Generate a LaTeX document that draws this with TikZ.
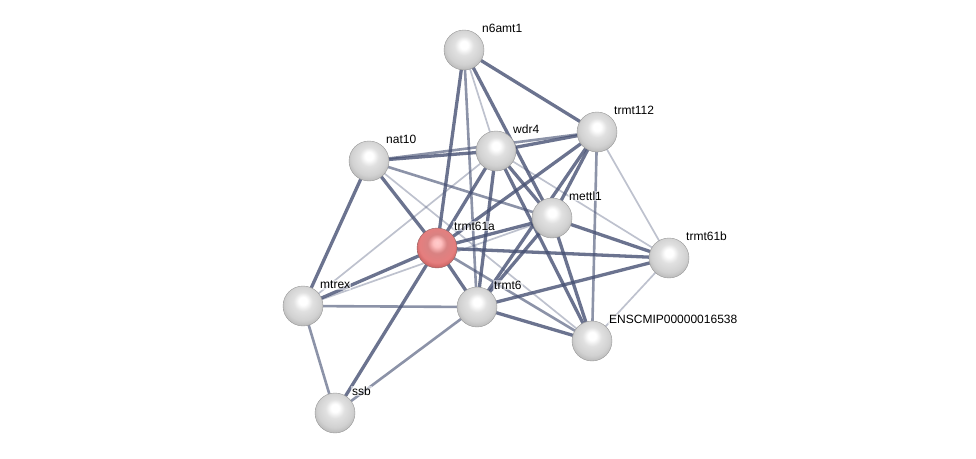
\documentclass[tikz,border=0pt]{standalone}
\usepackage{fontspec}
\setmainfont{Liberation Sans}
\usetikzlibrary{positioning,calc,backgrounds}

\definecolor{edgeblue}{RGB}{70,80,115}
\pgfdeclareradialshading{stringgray}{\pgfpoint{0bp}{7bp}}{color(0bp)=(white);
	color(5bp)=(white); color(12bp)=(white!88!black); color(22bp)=(white!82!black);
	color(30bp)=(white!70!black); color(34bp)=(white!55!black); color(50bp)=(white!55!black)}
\pgfdeclareradialshading{stringred}{\pgfpoint{0bp}{7bp}}{color(0bp)=(white!80!red);
	color(5bp)=(white!75!red); color(12bp)=(red!40!white!85!black); color(22bp)=(red!45!white!90!black);
	color(30bp)=(red!55!white!75!black); color(34bp)=(red!50!black); color(50bp)=(red!50!black)}

\begin{document}
\begin{tikzpicture}[x=1pt,y=-1pt,
				prot/.style={circle,minimum size=40pt,inner sep=0pt,outer sep=0pt,shading=stringgray,draw=black!40,line width=.4pt},
				query/.style={prot,shading=stringred,draw=red!30!black!60},
				lab/.style={anchor=west,inner sep=1pt,fill=white,fill opacity=.55,text opacity=1,
					font=\fontsize{12}{13}\selectfont},
				strong/.style={edgeblue,line width=3.3pt,opacity=.8},
				medium/.style={edgeblue,line width=2.6pt,opacity=.62},
				weak/.style={edgeblue,line width=1.7pt,opacity=.35}]
				\useasboundingbox (0,0) rectangle (976,458);
				% proteins
				\node[prot]  (n6amt1)  at (464,50)  {};
				\node[prot]  (trmt112) at (597,132) {};
				\node[prot]  (wdr4)    at (496,151) {};
				\node[prot]  (nat10)   at (369,161) {};
				\node[prot]  (mettl1)  at (552,218) {};
				\node[query] (trmt61a) at (437,248) {};
				\node[prot]  (trmt61b) at (669,258) {};
				\node[prot]  (mtrex)   at (303,306) {};
				\node[prot]  (trmt6)   at (477,307) {};
				\node[prot]  (ensc)    at (592,341) {};
				\node[prot]  (ssb)     at (335,413) {};
				% labels
				\node[lab] (n6amt1-l)  at ([shift={(17,-22)}]n6amt1.center)  {n6amt1};
				\node[lab] (trmt112-l) at ([shift={(16,-22)}]trmt112.center) {trmt112};
				\node[lab] (wdr4-l)    at ([shift={(16,-22)}]wdr4.center)    {wdr4};
				\node[lab] (nat10-l)   at ([shift={(16,-22)}]nat10.center)   {nat10};
				\node[lab] (mettl1-l)  at ([shift={(16,-22)}]mettl1.center)  {mettl1};
				\node[lab] (trmt61a-l) at ([shift={(16,-22)}]trmt61a.center) {trmt61a};
				\node[lab] (trmt61b-l) at ([shift={(16,-22)}]trmt61b.center) {trmt61b};
				\node[lab] (mtrex-l)   at ([shift={(16,-21)}]mtrex.center)   {mtrex};
				\node[lab] (trmt6-l)   at ([shift={(16,-22)}]trmt6.center)   {trmt6};
				\node[lab] (ensc-l)    at ([shift={(16,-22)}]ensc.center)    {ENSCMIP00000016538};
				\node[lab] (ssb-l)     at ([shift={(16,-22)}]ssb.center)     {ssb};

				\begin{scope}[on background layer]
				\foreach \a/\b in {n6amt1/trmt112,n6amt1/trmt61a,n6amt1/mettl1,trmt112/wdr4,trmt112/mettl1,
						trmt112/trmt61a,trmt112/trmt6,wdr4/nat10,wdr4/trmt61a,wdr4/trmt6,wdr4/mettl1,wdr4/ensc,
						nat10/mtrex,nat10/trmt61a,mettl1/trmt61a,mettl1/trmt61b,mettl1/trmt6,mettl1/ensc,
						trmt61a/trmt61b,trmt61a/trmt6,trmt61a/ssb,trmt61a/mtrex,trmt6/ensc,trmt6/trmt61b}
					\draw[strong] (\a.center) -- (\b.center);
				\foreach \a/\b in {n6amt1/trmt6,trmt112/nat10,trmt112/ensc,nat10/mettl1,trmt61a/ensc,
						trmt6/mtrex,trmt6/ssb,mtrex/ssb}
					\draw[medium] (\a.center) -- (\b.center);
				\foreach \a/\b in {n6amt1/wdr4,trmt112/trmt61b,wdr4/trmt61b,wdr4/mtrex,nat10/ensc,
						mettl1/mtrex,ensc/trmt61b}
					\draw[weak] (\a.center) -- (\b.center);
				\end{scope}
			\end{tikzpicture}
\end{document}
